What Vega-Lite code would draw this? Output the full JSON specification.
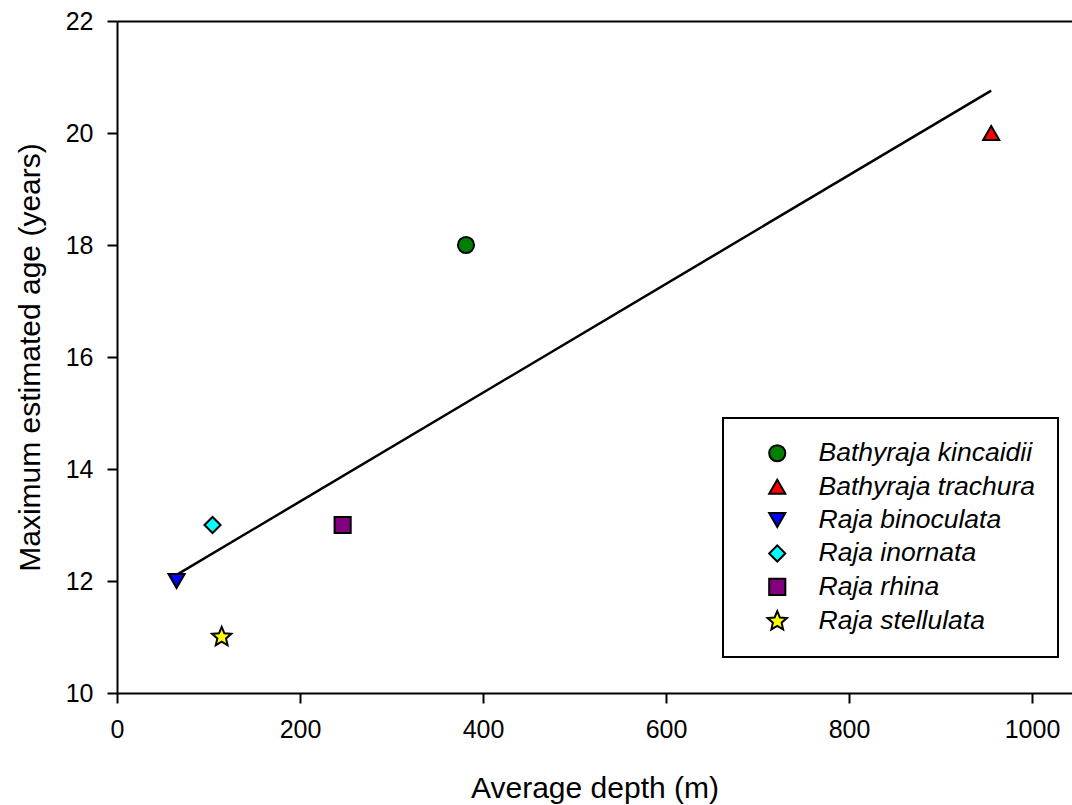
{
  "$schema": "https://vega.github.io/schema/vega-lite/v6.json",
  "autosize": "none",
  "width": 955,
  "height": 672,
  "padding": {"left": 117, "top": 21, "right": 0, "bottom": 112},
  "background": "white",
  "data": {
    "values": [
      {"species": "Bathyraja kincaidii", "depth": 381.4, "age": 18},
      {"species": "Bathyraja trachura", "depth": 955.4, "age": 20},
      {"species": "Raja binoculata", "depth": 65.1, "age": 12},
      {"species": "Raja inornata", "depth": 104.4, "age": 13},
      {"species": "Raja rhina", "depth": 246.6, "age": 13},
      {"species": "Raja stellulata", "depth": 114.4, "age": 11}
    ]
  },
  "layer": [
    {
      "transform": [{"regression": "age", "on": "depth"}],
      "mark": {"type": "line", "color": "black", "strokeWidth": 2.5},
      "encoding": {
        "x": {
          "field": "depth", "type": "quantitative",
          "scale": {"domain": [0, 1043.7], "nice": false, "zero": false},
          "axis": {"orient": "top", "labels": false, "ticks": false, "title": null, "grid": false}
        },
        "y": {
          "field": "age", "type": "quantitative",
          "scale": {"domain": [10, 22], "nice": false, "zero": false}
        }
      }
    },
    {
      "mark": {"type": "point", "filled": true, "size": 260, "stroke": "black", "strokeWidth": 2, "opacity": 1},
      "encoding": {
        "x": {
          "field": "depth", "type": "quantitative",
          "axis": {
            "title": "Average depth (m)",
            "values": [0, 200, 400, 600, 800, 1000],
            "format": "d",
            "labelPadding": 14,
            "labelFlush": false,
            "labelOverlap": false,
            "titleBaseline": "alphabetic",
            "titleY": 104
          }
        },
        "y": {
          "field": "age", "type": "quantitative",
          "axis": {
            "title": "Maximum estimated age (years)",
            "values": [10, 12, 14, 16, 18, 20, 22],
            "format": "d",
            "labelPadding": 14,
            "titleBaseline": "alphabetic",
            "titleAlign": "center",
            "titleAngle": 270,
            "titleX": -78,
            "titleY": 336
          }
        },
        "color": {
          "field": "species", "type": "nominal", "title": null,
          "scale": {
            "domain": ["Bathyraja kincaidii", "Bathyraja trachura", "Raja binoculata", "Raja inornata", "Raja rhina", "Raja stellulata"],
            "range": ["#008000", "#ff0000", "#0000ff", "#00ffff", "#800080", "#ffff00"]
          }
        },
        "shape": {
          "field": "species", "type": "nominal", "title": null,
          "scale": {
            "domain": ["Bathyraja kincaidii", "Bathyraja trachura", "Raja binoculata", "Raja inornata", "Raja rhina", "Raja stellulata"],
            "range": ["circle", "triangle-up", "triangle-down", "diamond", "square", "M0,-1.25L0.33,-0.45L1.19,-0.39L0.54,0.17L0.73,1.01L0,0.57L-0.73,1.01L-0.54,0.17L-1.19,-0.39L-0.33,-0.45Z"]
          }
        }
      }
    }
  ],
  "resolve": {"axis": {"x": "independent"}},
  "config": {
    "view": {"stroke": null},
    "axis": {
      "grid": false,
      "domainColor": "black",
      "domainWidth": 2,
      "tickColor": "black",
      "tickWidth": 2,
      "tickSize": 10,
      "labelFont": "Liberation Sans",
      "labelFontSize": 25,
      "labelColor": "black",
      "titleFont": "Liberation Sans",
      "titleFontSize": 30,
      "titleFontWeight": "normal",
      "titleColor": "black"
    },
    "legend": {
      "orient": "none",
      "legendX": 606,
      "legendY": 397,
      "padding": 22,
      "strokeColor": "black",
      "strokeWidth": 2,
      "fillColor": "white",
      "cornerRadius": 0,
      "labelFont": "Liberation Sans",
      "labelFontSize": 26.5,
      "labelFontStyle": "italic",
      "labelColor": "black",
      "labelLimit": 400,
      "rowPadding": 6.4,
      "symbolSize": 260,
      "symbolStrokeColor": "black",
      "symbolStrokeWidth": 2,
      "symbolOffset": 19,
      "labelOffset": 28
    }
  }
}
